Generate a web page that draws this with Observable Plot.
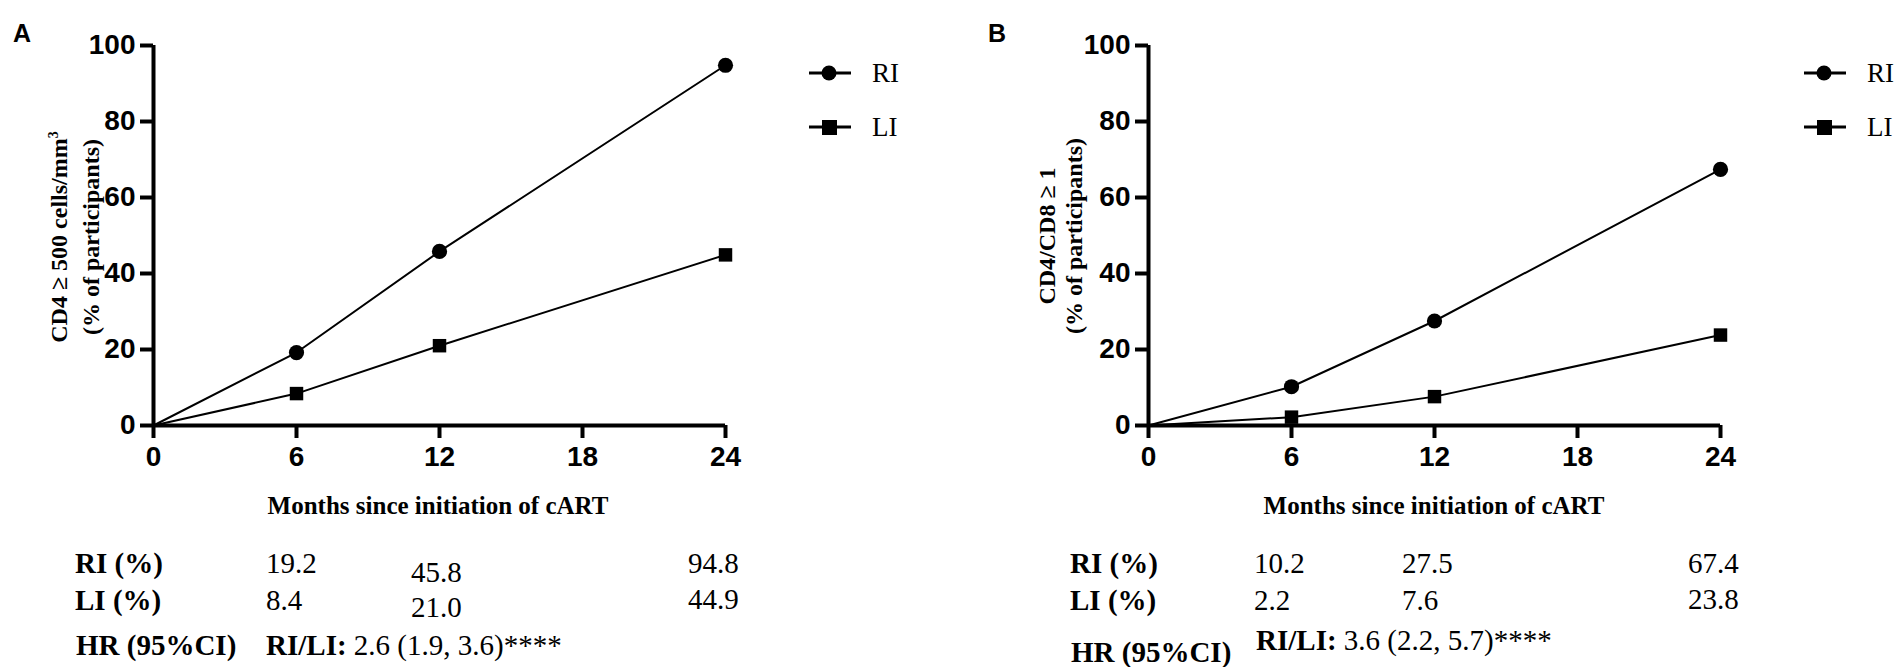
<!DOCTYPE html>
<html>
<head>
<meta charset="utf-8">
<script src="https://cdn.jsdelivr.net/npm/d3@7"></script>
<script src="https://cdn.jsdelivr.net/npm/@observablehq/plot@0.6"></script>
<style>
  html, body { margin: 0; padding: 0; background: #fff; }
  #root { position: relative; width: 1904px; height: 667px; background: #fff; overflow: hidden; font-family: "Liberation Serif", "DejaVu Serif", serif; color: #000; }
  .abs { position: absolute; white-space: nowrap; line-height: 1; }
  .panel { position: absolute; top: 0; }
  .cell { font-size: 29px; transform: translateY(-50%); }
  .b { font-weight: bold; }
  .xlab { font-size: 25px; font-weight: bold; transform: translate(-50%, -50%); }
  .ylab { font-size: 24px; font-weight: bold; text-align: center; transform: translate(-50%, -50%) rotate(-90deg); }
  .tag { font-family: "Liberation Sans", Arial, sans-serif; font-weight: bold; font-size: 25px; transform: translateY(-50%); }
  .leg { font-size: 27px; transform: translateY(-50%); }
  sup { font-size: 14px; vertical-align: 9px; }
</style>
</head>
<body>
<div id="root"></div>
<script>
// ---------- data ----------
const months = [0, 6, 12, 24];
const xTicks = [0, 6, 12, 18, 24];
const yTicks = [0, 20, 40, 60, 80, 100];
const seriesNames = ["RI", "LI"];

const panelA_RI = [0, 19.2, 45.8, 94.8];
const panelA_LI = [0, 8.4, 21.0, 44.9];
const panelB_RI = [0, 10.2, 27.5, 67.4];
const panelB_LI = [0, 2.2, 7.6, 23.8];

const tableA_RI = ["19.2", "45.8", "94.8"];
const tableA_LI = ["8.4", "21.0", "44.9"];
const tableB_RI = ["10.2", "27.5", "67.4"];
const tableB_LI = ["2.2", "7.6", "23.8"];
const hrA = " 2.6 (1.9, 3.6)****";
const hrB = " 3.6 (2.2, 5.7)****";

const xLabel = "Months since initiation of cART";

// ---------- helpers ----------
const root = document.getElementById("root");

function rows(ri, li) {
  const out = [];
  months.forEach((m, i) => out.push({month: m, value: ri[i], series: "RI"}));
  months.forEach((m, i) => out.push({month: m, value: li[i], series: "LI"}));
  return out;
}

const tickFont = "'Liberation Sans', Arial, sans-serif";

function makePanel(data) {
  return Plot.plot({
    width: 760,
    height: 470,
    marginLeft: 153,
    marginRight: 35,
    marginTop: 45,
    marginBottom: 45,
    style: {background: "transparent", overflow: "visible"},
    x: {domain: [0, 24]},
    y: {domain: [0, 100]},
    symbol: {domain: seriesNames, range: ["circle", "square"]},
    marks: [
      Plot.axisX({ticks: xTicks, tickSize: 13, tickPadding: 8, strokeWidth: 4, fontSize: 28, fontWeight: "bold",
        fontFamily: tickFont, label: null, tickFormat: d => d}),
      Plot.axisY({ticks: yTicks, tickSize: 13, tickPadding: 5, strokeWidth: 4, fontSize: 28, fontWeight: "bold",
        fontFamily: tickFont, label: null, tickFormat: d => d}),
      Plot.ruleY([0], {stroke: "black", strokeWidth: 4}),
      Plot.ruleX([0], {stroke: "black", strokeWidth: 4}),
      Plot.line(data, {x: "month", y: "value", z: "series", stroke: "black", strokeWidth: 2}),
      Plot.dot(data.filter(d => d.month > 0), {x: "month", y: "value", symbol: "series", fill: "black", stroke: "none", r: 7.6})
    ]
  });
}

function addText(cls, x, y, html) {
  const d = document.createElement("div");
  d.className = "abs " + cls;
  d.style.left = x + "px";
  d.style.top = y + "px";
  d.innerHTML = html;
  root.appendChild(d);
  return d;
}

function addLegend(x0, yRI, yLI) {
  const svgNS = "http://www.w3.org/2000/svg";
  [[yRI, "RI", "circle"], [yLI, "LI", "square"]].forEach(([y, name, sym]) => {
    const s = document.createElementNS(svgNS, "svg");
    s.setAttribute("width", 44); s.setAttribute("height", 20);
    s.style.position = "absolute"; s.style.left = x0 + "px"; s.style.top = (y - 10) + "px";
    const ln = document.createElementNS(svgNS, "line");
    ln.setAttribute("x1", 0); ln.setAttribute("x2", 42); ln.setAttribute("y1", 10); ln.setAttribute("y2", 10);
    ln.setAttribute("stroke", "black"); ln.setAttribute("stroke-width", 3);
    s.appendChild(ln);
    if (sym === "circle") {
      const c = document.createElementNS(svgNS, "circle");
      c.setAttribute("cx", 20); c.setAttribute("cy", 10); c.setAttribute("r", 7.5); s.appendChild(c);
    } else {
      const r = document.createElementNS(svgNS, "rect");
      r.setAttribute("x", 13); r.setAttribute("y", 3); r.setAttribute("width", 15); r.setAttribute("height", 15); s.appendChild(r);
    }
    root.appendChild(s);
    addText("leg", x0 + 63, y, name);
  });
}

// ---------- panel A ----------
const pA = makePanel(rows(panelA_RI, panelA_LI));
pA.classList.add("panel"); pA.style.left = "0px";
root.appendChild(pA);

// ---------- panel B ----------
const pB = makePanel(rows(panelB_RI, panelB_LI));
pB.classList.add("panel"); pB.style.left = "995px";
root.appendChild(pB);

// panel tags
addText("tag", 13, 33, "A");
addText("tag", 988, 33, "B");

// y labels
const ylA = addText("ylab", 72, 237, "CD4 ≥ 500 cells/mm<sup>3</sup><br>(% of participants)");
ylA.style.lineHeight = "32px";
const ylB = addText("ylab", 1061, 236, "CD4/CD8 ≥ 1<br>(% of participants)");
ylB.style.lineHeight = "27px";

// x labels
addText("xlab", 438, 505, xLabel);
addText("xlab", 1434, 505, xLabel);

// legends
addLegend(809, 73, 127);
addLegend(1804, 73, 127);

// table A
addText("cell b", 75, 563, "RI (%)");
addText("cell b", 75, 600, "LI (%)");
addText("cell b", 76, 645, "HR (95%CI)");
addText("cell", 266, 563, tableA_RI[0]);
addText("cell", 411, 572, tableA_RI[1]);
addText("cell", 688, 563, tableA_RI[2]);
addText("cell", 266, 600, tableA_LI[0]);
addText("cell", 411, 607, tableA_LI[1]);
addText("cell", 688, 599, tableA_LI[2]);
addText("cell", 266, 645, "<b>RI/LI:</b>" + hrA);

// table B
addText("cell b", 1070, 563, "RI (%)");
addText("cell b", 1070, 600, "LI (%)");
addText("cell b", 1071, 652, "HR (95%CI)");
addText("cell", 1254, 563, tableB_RI[0]);
addText("cell", 1402, 563, tableB_RI[1]);
addText("cell", 1688, 563, tableB_RI[2]);
addText("cell", 1254, 600, tableB_LI[0]);
addText("cell", 1402, 600, tableB_LI[1]);
addText("cell", 1688, 599, tableB_LI[2]);
addText("cell", 1256, 640, "<b>RI/LI:</b>" + hrB);
</script>
</body>
</html>
